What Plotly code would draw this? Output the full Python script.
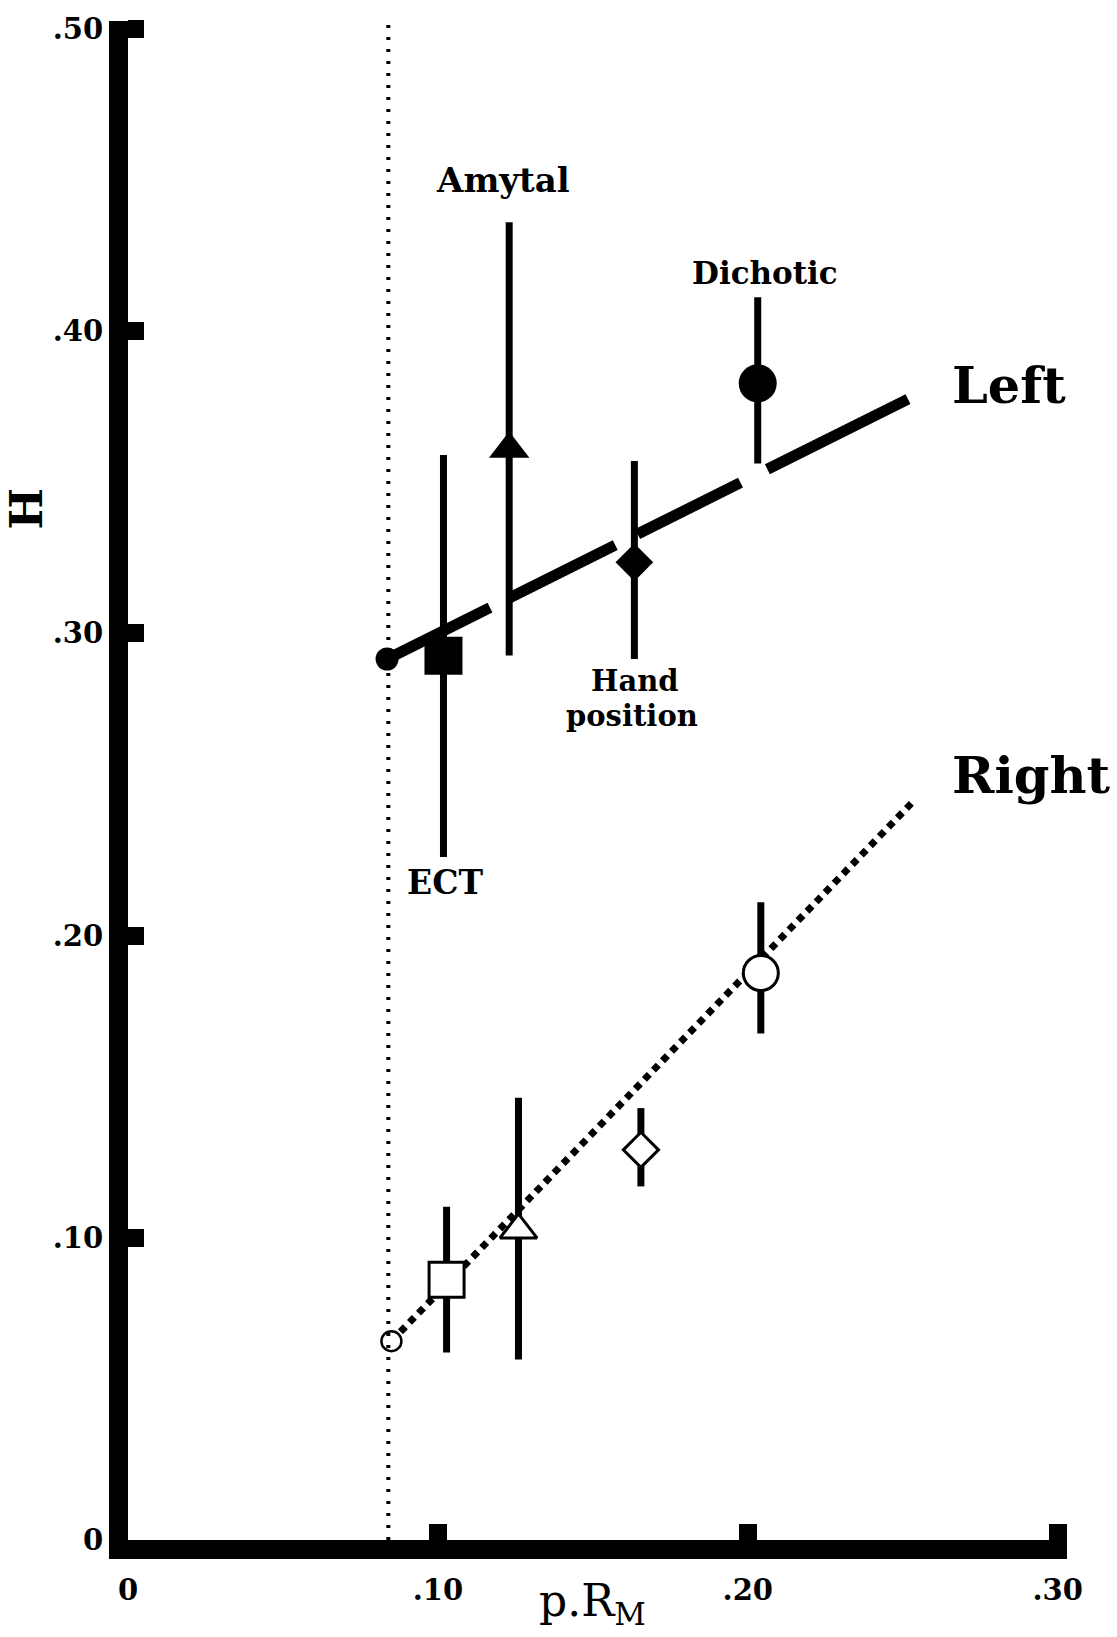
import plotly.graph_objects as go

# Laterality index H against p.R_M for four assessment methods
tasks = ["ECT", "Amytal", "Hand position", "Dichotic"]

# Left-hemisphere (filled markers)
left_x = [0.1018, 0.1230, 0.1634, 0.2032]
left_h = [0.2926, 0.3610, 0.3235, 0.3827]
left_hi = [0.3590, 0.4360, 0.3570, 0.4112]
left_lo = [0.2260, 0.2927, 0.2915, 0.3562]

# Right-hemisphere (open markers)
right_x = [0.1028, 0.1260, 0.1655, 0.2042]
right_h = [0.0861, 0.1026, 0.1291, 0.1876]
right_hi = [0.1103, 0.1463, 0.1429, 0.2110]
right_lo = [0.0620, 0.0597, 0.1170, 0.1676]

# Fitted lines
left_fit_x = [0.0836, 0.2517]
left_fit_h = [0.2915, 0.3775]
right_fit_x = [0.0850, 0.2534]
right_fit_h = [0.0658, 0.2444]

# Reference p.R_M value (vertical dotted line)
ref_x = 0.084
ref_h = [0.0, 0.5026]

# Axis ticks
x_ticks = [0.0, 0.10, 0.20, 0.30]
x_tick_text = ["0", ".10", ".20", ".30"]
y_ticks = [0.0, 0.10, 0.20, 0.30, 0.40, 0.50]
y_tick_text = ["0", ".10", ".20", ".30", ".40", ".50"]

SERIF = "DejaVu Serif"
fig = go.Figure()

# fitted lines
fig.add_trace(go.Scatter(
    x=left_fit_x, y=left_fit_h, mode="lines",
    line=dict(color="black", width=11,
              dash="115px,22px,118px,25px,115px,30px,300px"),
    hoverinfo="skip"))
fig.add_trace(go.Scatter(
    x=right_fit_x, y=right_fit_h, mode="lines",
    line=dict(color="black", width=7, dash="7px,6px"),
    hoverinfo="skip"))

# line origins
fig.add_trace(go.Scatter(
    x=[left_fit_x[0]], y=[left_fit_h[0]], mode="markers",
    marker=dict(symbol="circle", size=23, color="black", line=dict(width=0))))
fig.add_trace(go.Scatter(
    x=[right_fit_x[0]], y=[right_fit_h[0]], mode="markers",
    marker=dict(symbol="circle", size=20, color="white",
                line=dict(color="black", width=2.5))))

filled_symbols = ["square", "triangle-up", "diamond", "circle"]
filled_sizes = [38, 35, 29, 38]
open_symbols = ["square", "triangle-up", "diamond", "circle"]
open_sizes = [35, 32, 27, 35]

for i in range(len(tasks)):
    fig.add_trace(go.Scatter(
        x=[left_x[i]], y=[left_h[i]], mode="markers", name=tasks[i],
        error_y=dict(type="data", symmetric=False,
                     array=[left_hi[i] - left_h[i]],
                     arrayminus=[left_h[i] - left_lo[i]],
                     color="black", thickness=7, width=0),
        marker=dict(symbol=filled_symbols[i], size=filled_sizes[i],
                    color="black", line=dict(width=0))))
    fig.add_trace(go.Scatter(
        x=[right_x[i]], y=[right_h[i]], mode="markers", name=tasks[i],
        error_y=dict(type="data", symmetric=False,
                     array=[right_hi[i] - right_h[i]],
                     arrayminus=[right_h[i] - right_lo[i]],
                     color="black", thickness=7, width=0),
        marker=dict(symbol=open_symbols[i], size=open_sizes[i],
                    color="white", line=dict(color="black", width=3))))

# vertical dotted reference line
fig.add_trace(go.Scatter(
    x=[ref_x, ref_x], y=ref_h, mode="lines",
    line=dict(color="black", width=4, dash="3px,9px"),
    hoverinfo="skip"))


def label(text, x, y, size, bold=True):
    fig.add_annotation(
        x=x, y=y, xref="x", yref="y", text=text, showarrow=False,
        xanchor="center", yanchor="middle",
        font=dict(family=SERIF, size=size, color="black",
                  weight="bold" if bold else "normal"))


label("Amytal", 0.121, 0.4499, 34)
label("Dichotic", 0.2055, 0.4193, 31)
label("Hand", 0.1635, 0.2842, 29)
label("position", 0.1625, 0.2727, 29)
label("ECT", 0.1023, 0.2175, 33)
label("Left", 0.2842, 0.3823, 51)
label("Right", 0.2913, 0.2531, 51)

# axis titles
fig.add_annotation(
    x=-0.1076, y=0.679, xref="paper", yref="paper", text="H",
    showarrow=False, textangle=-90, xanchor="center", yanchor="middle",
    font=dict(family=SERIF, size=44, color="black", weight="bold"))
fig.add_annotation(
    x=0.495, y=-0.042, xref="paper", yref="paper", text="p.R<sub>M</sub>",
    showarrow=False, xanchor="center", yanchor="middle",
    font=dict(family=SERIF, size=44, color="black"))

axis_common = dict(
    showline=True, linewidth=19, linecolor="black",
    ticks="inside", ticklen=16, tickwidth=18, tickcolor="black",
    showgrid=False, zeroline=False, fixedrange=True,
    tickfont=dict(family=SERIF, size=29, color="black", weight="bold"))

fig.update_layout(
    width=1117, height=1637,
    margin=dict(l=128, r=50, t=15, b=97),
    paper_bgcolor="white", plot_bgcolor="white",
    showlegend=False,
    xaxis=dict(range=[0, 0.303], tickvals=x_ticks, ticktext=x_tick_text,
               ticklabelstandoff=6, **axis_common),
    yaxis=dict(range=[0, 0.5026], tickvals=y_ticks, ticktext=y_tick_text,
               **axis_common),
)

fig.write_html("out.html")
